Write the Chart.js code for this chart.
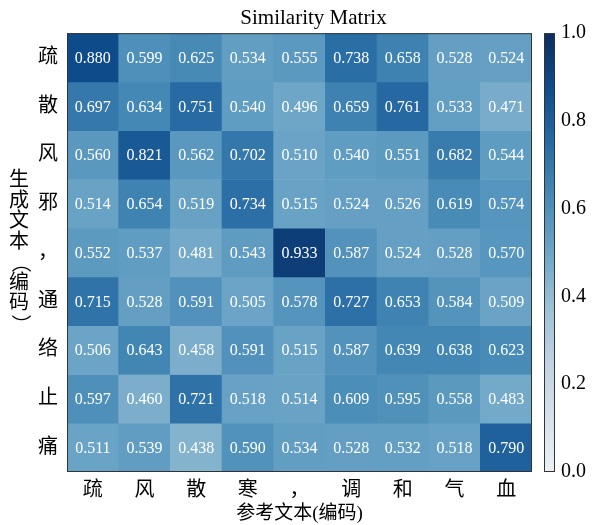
<!DOCTYPE html>
<html>
<head>
<meta charset="utf-8">
<script src="https://cdn.jsdelivr.net/npm/chart.js@4"></script>
<style>
  body { margin: 0; background: #fff; }
  canvas { display: block; }
</style>
</head>
<body>
<canvas id="heat" width="597" height="525"></canvas>
<script>
// reference (x) and generated (y) tokens
const refTokens = ['疏', '风', '散', '寒', '，', '调', '和', '气', '血'];
const genTokens = ['疏', '散', '风', '邪', '，', '通', '络', '止', '痛'];

// one row per generated token
const rowShu  = [0.880, 0.599, 0.625, 0.534, 0.555, 0.738, 0.658, 0.528, 0.524];
const rowSan  = [0.697, 0.634, 0.751, 0.540, 0.496, 0.659, 0.761, 0.533, 0.471];
const rowFeng = [0.560, 0.821, 0.562, 0.702, 0.510, 0.540, 0.551, 0.682, 0.544];
const rowXie  = [0.514, 0.654, 0.519, 0.734, 0.515, 0.524, 0.526, 0.619, 0.574];
const rowComma = [0.552, 0.537, 0.481, 0.543, 0.933, 0.587, 0.524, 0.528, 0.570];
const rowTong = [0.715, 0.528, 0.591, 0.505, 0.578, 0.727, 0.653, 0.584, 0.509];
const rowLuo  = [0.506, 0.643, 0.458, 0.591, 0.515, 0.587, 0.639, 0.638, 0.623];
const rowZhi  = [0.597, 0.460, 0.721, 0.518, 0.514, 0.609, 0.595, 0.558, 0.483];
const rowTong2 = [0.511, 0.539, 0.438, 0.590, 0.534, 0.528, 0.532, 0.518, 0.790];
const matrix = [rowShu, rowSan, rowFeng, rowXie, rowComma, rowTong, rowLuo, rowZhi, rowTong2];

const colorbarTicks = [0, 0.2, 0.4, 0.6, 0.8, 1.0];

// matplotlib "Blues", toned down a little to match the picture
const blues = [
  [247, 251, 255], [222, 235, 247], [198, 219, 239], [158, 202, 225],
  [107, 174, 214], [66, 146, 198], [33, 113, 181], [8, 81, 156], [8, 48, 107]
];
function mute(c) {
  const g = 0.299 * c[0] + 0.587 * c[1] + 0.114 * c[2];
  return c.map(a => Math.round((a * 0.88 + g * 0.12) * 0.96));
}
function rgb(c) { return `rgb(${c[0]},${c[1]},${c[2]})`; }
function bluesAt(v) {
  const t = Math.max(0, Math.min(1, v)) * (blues.length - 1);
  const i = Math.min(Math.floor(t), blues.length - 2);
  const f = t - i;
  const c = blues[i].map((a, k) => a + (blues[i + 1][k] - a) * f);
  return rgb(mute(c));
}

const FONT = "'Liberation Serif', 'Noto Sans CJK SC', serif";

const datasets = matrix.map((row, r) => ({
  label: genTokens[r],
  data: row.map(() => [r, r + 1]),
  values: row,
  backgroundColor: row.map(v => bluesAt(v)),
  borderWidth: 0,
  categoryPercentage: 1,
  barPercentage: 1,
  grouped: false,
  xAxisID: 'x',
  yAxisID: 'y'
}));

const heatPlugin = {
  id: 'heatExtras',
  afterDatasetsDraw(chart) {
    const ctx = chart.ctx;
    const area = chart.chartArea;
    ctx.save();
    ctx.fillStyle = '#fff';
    ctx.font = '16px ' + FONT;
    ctx.textAlign = 'center';
    ctx.textBaseline = 'middle';
    chart.data.datasets.forEach((ds, di) => {
      chart.getDatasetMeta(di).data.forEach((bar, i) => {
        ctx.fillText(ds.values[i].toFixed(3), bar.x, (bar.y + bar.base) / 2 + 1);
      });
    });
    ctx.strokeStyle = '#333';
    ctx.lineWidth = 1;
    ctx.strokeRect(area.left + 0.5, area.top + 0.5, area.right - area.left - 1, area.bottom - area.top - 1);

    // colorbar
    const cb = chart.scales.cb;
    const y0 = cb.getPixelForValue(0), y1 = cb.getPixelForValue(1);
    const grad = ctx.createLinearGradient(0, y0, 0, y1);
    blues.forEach((c, k) => grad.addColorStop(k / (blues.length - 1), rgb(mute(c))));
    const bx = area.right + 12, bw = 11;
    ctx.fillStyle = grad;
    ctx.fillRect(bx, y1, bw, y0 - y1);
    ctx.strokeStyle = '#333';
    ctx.strokeRect(bx + 0.5, y1 + 0.5, bw - 1, y0 - y1 - 1);

    // vertical y-axis title, brackets turned on their side
    const chars = ['生', '成', '文', '本', '（', '编', '码', '）'];
    const step = 20.5;
    const mid = (area.top + area.bottom) / 2;
    ctx.fillStyle = '#000';
    ctx.font = '20px ' + FONT;
    chars.forEach((ch, k) => {
      const y = mid + (k - (chars.length - 1) / 2) * step;
      if (ch === '（' || ch === '）') {
        ctx.save();
        ctx.translate(19, y);
        ctx.rotate(Math.PI / 2);
        ctx.fillText(ch, 0, 0);
        ctx.restore();
      } else {
        ctx.fillText(ch, 19, y);
      }
    });
    ctx.restore();
  }
};

new Chart(document.getElementById('heat'), {
  type: 'bar',
  data: { labels: refTokens, datasets: datasets },
  plugins: [heatPlugin],
  options: {
    responsive: false,
    animation: false,
    layout: { padding: { left: 30, right: 0, top: 0, bottom: 0 } },
    plugins: {
      legend: { display: false },
      tooltip: { enabled: false },
      title: {
        display: true,
        text: 'Similarity Matrix',
        color: '#000',
        font: { family: FONT, size: 21, weight: 'normal' },
        padding: { top: 6, bottom: 2 }
      }
    },
    scales: {
      x: {
        type: 'category',
        grid: { display: false, drawTicks: false },
        border: { display: false },
        ticks: { color: '#000', font: { family: FONT, size: 20 }, padding: 7, maxRotation: 0, autoSkip: false },
        title: {
          display: true,
          text: '参考文本(编码)',
          color: '#000',
          font: { family: FONT, size: 19 },
          padding: { top: 0, bottom: 0 }
        },
        afterFit: s => { s.height = 53; s.paddingLeft = 0; s.paddingRight = 0; }
      },
      y: {
        type: 'linear',
        min: 0,
        max: genTokens.length,
        reverse: true,
        grid: { display: false, drawTicks: false },
        border: { display: false },
        afterBuildTicks: s => { s.ticks = genTokens.map((_, i) => ({ value: i + 0.5 })); },
        ticks: {
          color: '#000',
          font: { family: FONT, size: 20 },
          padding: 9,
          autoSkip: false,
          callback: (v, i) => genTokens[i]
        },
        afterFit: s => { s.width = 37; s.paddingTop = 0; s.paddingBottom = 0; }
      },
      cb: {
        type: 'linear',
        position: 'right',
        min: 0,
        max: 1,
        grid: { display: false, drawTicks: false },
        border: { display: false },
        afterBuildTicks: s => { s.ticks = colorbarTicks.map(v => ({ value: v })); },
        ticks: {
          color: '#000',
          font: { family: FONT, size: 20 },
          padding: 29,
          callback: v => v.toFixed(1)
        },
        afterFit: s => { s.width = 65; s.paddingTop = 0; s.paddingBottom = 0; }
      }
    }
  }
});
</script>
</body>
</html>
